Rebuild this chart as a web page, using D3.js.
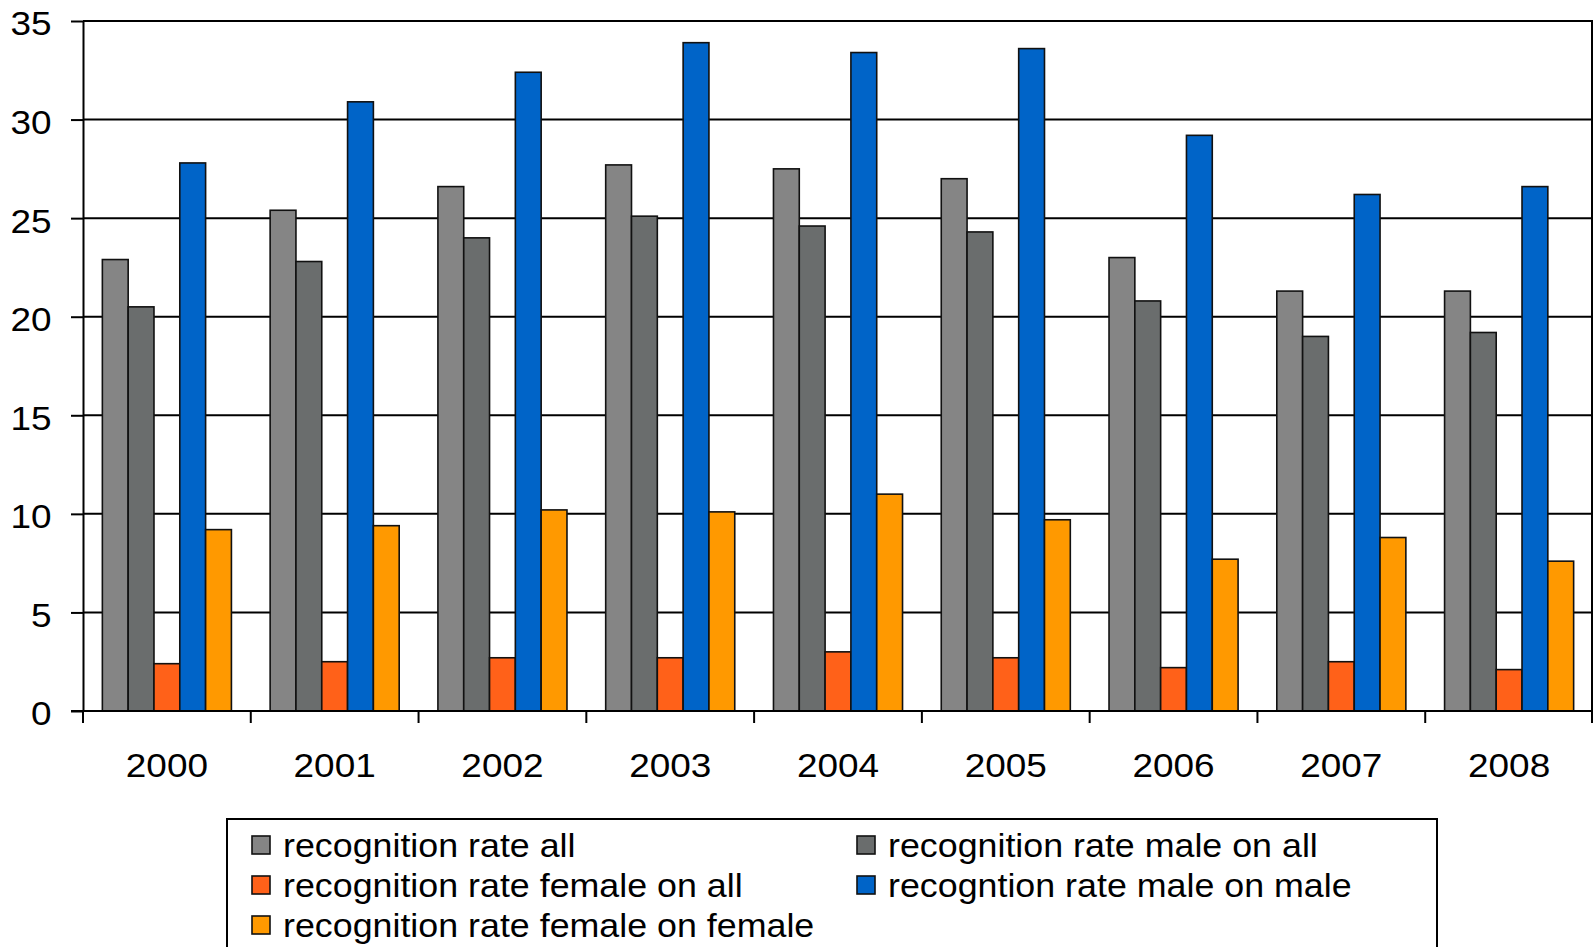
<!DOCTYPE html>
<html>
<head>
<meta charset="utf-8">
<script src="https://cdn.jsdelivr.net/npm/d3@7"></script>
<style>
  html, body { margin: 0; padding: 0; background: #fff; }
  svg { display: block; }
  text { font-family: "Liberation Sans", Arial, sans-serif; fill: #000; }
</style>
</head>
<body>
<svg id="chart" width="1594" height="947"></svg>
<script>
// Recognition rates per year (%)
const years = ["2000", "2001", "2002", "2003", "2004", "2005", "2006", "2007", "2008"];
const seriesNames = [
  "recognition rate all",
  "recognition rate male on all",
  "recognition rate female on all",
  "recogntion rate male on male",
  "recognition rate female on female"
];
const seriesColors = ["#858585", "#6a6d6d", "#ff6119", "#0064c8", "#ff9900"];
const rateAll          = [22.9, 25.4, 26.6, 27.7, 27.5, 27.0, 23.0, 21.3, 21.3];
const rateMaleOnAll    = [20.5, 22.8, 24.0, 25.1, 24.6, 24.3, 20.8, 19.0, 19.2];
const rateFemaleOnAll  = [2.4, 2.5, 2.7, 2.7, 3.0, 2.7, 2.2, 2.5, 2.1];
const rateMaleOnMale   = [27.8, 30.9, 32.4, 33.9, 33.4, 33.6, 29.2, 26.2, 26.6];
const rateFemaleOnFem  = [9.2, 9.4, 10.2, 10.1, 11.0, 9.7, 7.7, 8.8, 7.6];
const yTicks = [0, 5, 10, 15, 20, 25, 30, 35];

const seriesValues = [rateAll, rateMaleOnAll, rateFemaleOnAll, rateMaleOnMale, rateFemaleOnFem];

const svg = d3.select("#chart");
const plotLeft = 83, plotRight = 1593, plotTop = 21, plotBottom = 711;
const FONT = 33, STRETCH = 1.12, LEGEND_STRETCH = 1.085;

const y = d3.scaleLinear().domain([0, 35]).range([plotBottom, plotTop]);
const x0 = d3.scaleBand().domain(years).range([plotLeft, plotRight]).padding(0);
const x1 = d3.scaleBand().domain(d3.range(seriesNames.length))
  .range([0, x0.bandwidth()]).paddingInner(0).paddingOuter(0.75);

// horizontal gridlines
svg.append("g")
  .selectAll("line")
  .data(yTicks.filter(t => t > 0))
  .join("line")
  .attr("x1", plotLeft).attr("x2", plotRight)
  .attr("y1", d => y(d)).attr("y2", d => y(d))
  .attr("stroke", "#000").attr("stroke-width", 2);

// right border of plot area
svg.append("line")
  .attr("x1", plotRight - 1).attr("x2", plotRight - 1)
  .attr("y1", plotTop).attr("y2", plotBottom)
  .attr("stroke", "#000").attr("stroke-width", 2);

// bars
const groups = svg.append("g")
  .selectAll("g")
  .data(years)
  .join("g")
  .attr("transform", d => `translate(${x0(d)},0)`);

groups.selectAll("rect")
  .data((yr, i) => seriesValues.map((vals, s) => ({ s, v: vals[i] })))
  .join("rect")
  .attr("x", d => x1(d.s))
  .attr("width", x1.bandwidth())
  .attr("y", d => y(d.v))
  .attr("height", d => y(0) - y(d.v))
  .attr("fill", d => seriesColors[d.s])
  .attr("stroke", "#111")
  .attr("stroke-width", 1.6);

// y axis
const yAxis = svg.append("g")
  .attr("transform", `translate(${plotLeft},0)`)
  .call(d3.axisLeft(y).tickValues(yTicks).tickSize(12).tickPadding(16).tickSizeOuter(0));
yAxis.select(".domain").attr("stroke", "#000").attr("stroke-width", 2);
yAxis.selectAll(".tick line").attr("stroke", "#000").attr("stroke-width", 2);
yAxis.selectAll(".tick text")
  .attr("font-size", FONT)
  .attr("font-family", "Liberation Sans, Arial, sans-serif")
  .attr("dy", "0.42em")
  .attr("transform", `scale(${STRETCH},1)`);

// x axis: line, boundary ticks, centered year labels
svg.append("line")
  .attr("x1", plotLeft - 12).attr("x2", plotRight)
  .attr("y1", plotBottom).attr("y2", plotBottom)
  .attr("stroke", "#000").attr("stroke-width", 2);

const bounds = years.map(d => x0(d)).concat([x0.range()[1] - 1]);
svg.append("g")
  .selectAll("line")
  .data(bounds)
  .join("line")
  .attr("x1", d => d).attr("x2", d => d)
  .attr("y1", plotBottom).attr("y2", plotBottom + 12)
  .attr("stroke", "#000").attr("stroke-width", 2);

svg.append("g")
  .selectAll("g")
  .data(years)
  .join("g")
  .attr("transform", d => `translate(${x0(d) + x0.bandwidth() / 2},777)`)
  .append("text")
  .attr("text-anchor", "middle")
  .attr("font-size", FONT)
  .attr("transform", `scale(${STRETCH},1)`)
  .text(d => d);

// legend
const legend = svg.append("g");
legend.append("rect")
  .attr("x", 227).attr("y", 819)
  .attr("width", 1437 - 227).attr("height", 200)
  .attr("fill", "#fff").attr("stroke", "#000").attr("stroke-width", 2);

const legendPos = [
  { x: 252, y: 836 }, { x: 857, y: 836 },
  { x: 252, y: 876 }, { x: 857, y: 876 },
  { x: 252, y: 916 }
];
const items = legend.selectAll("g.item")
  .data(seriesNames)
  .join("g")
  .attr("class", "item")
  .attr("transform", (d, i) => `translate(${legendPos[i].x},${legendPos[i].y})`);
items.append("rect")
  .attr("width", 18).attr("height", 18)
  .attr("fill", (d, i) => seriesColors[i])
  .attr("stroke", "#111").attr("stroke-width", 1.6);
items.append("g")
  .attr("transform", "translate(31,21)")
  .append("text")
  .attr("font-size", FONT)
  .attr("transform", `scale(${LEGEND_STRETCH},1)`)
  .text(d => d);
</script>
</body>
</html>
